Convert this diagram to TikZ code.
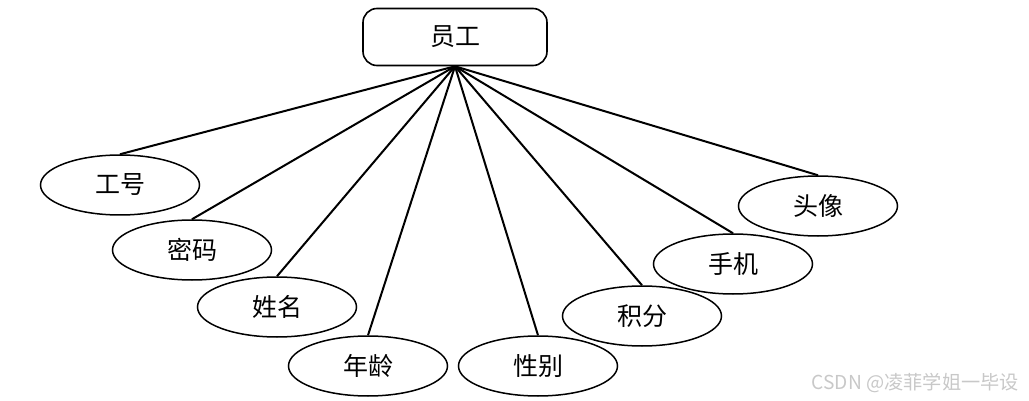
\documentclass[tikz,border=0pt]{standalone}
\usepackage{fontspec}
\setmainfont{Noto Sans CJK SC}
\newfontfamily\markfont{Noto Sans CJK SC}
\usetikzlibrary{shapes.geometric}
\definecolor{markgray}{RGB}{200, 200, 200}

\begin{document}
\begin{tikzpicture}[
    x=0.5pt, y=-0.5pt,
    entity/.style={draw, thick, rounded corners=7pt, minimum width=92pt, minimum height=28.5pt, inner sep=0pt, font=\fontsize{12.5}{14}\selectfont},
    attr/.style={draw, ellipse, line width=0.75pt, minimum width=79.5pt, minimum height=30pt, inner sep=0pt, font=\fontsize{12.5}{14}\selectfont},
    link/.style={line width=1pt}
]
    \useasboundingbox (0,0) rectangle (1029,401);
    % Nodes
    \node[entity] (staff) at (455,37) {员工};
    \node[attr] (no) at (120,185) {工号};
    \node[attr] (pwd) at (192,250) {密码};
    \node[attr] (name) at (277,307) {姓名};
    \node[attr] (age) at (368,366) {年龄};
    \node[attr] (sex) at (538,366) {性别};
    \node[attr] (score) at (642,316) {积分};
    \node[attr] (phone) at (733,264) {手机};
    \node[attr] (avatar) at (818,206) {头像};

    % Lines
    \foreach \a in {no, pwd, name, age, sex, score, phone, avatar}
        \draw[link] (staff.south) -- (\a.north);

    % Watermark
    \node[text=markgray, font=\markfont\fontsize{9.6}{11}\selectfont, anchor=east] (mark) at (1026,383) {CSDN @凌菲学姐一毕设};
\end{tikzpicture}
\end{document}
